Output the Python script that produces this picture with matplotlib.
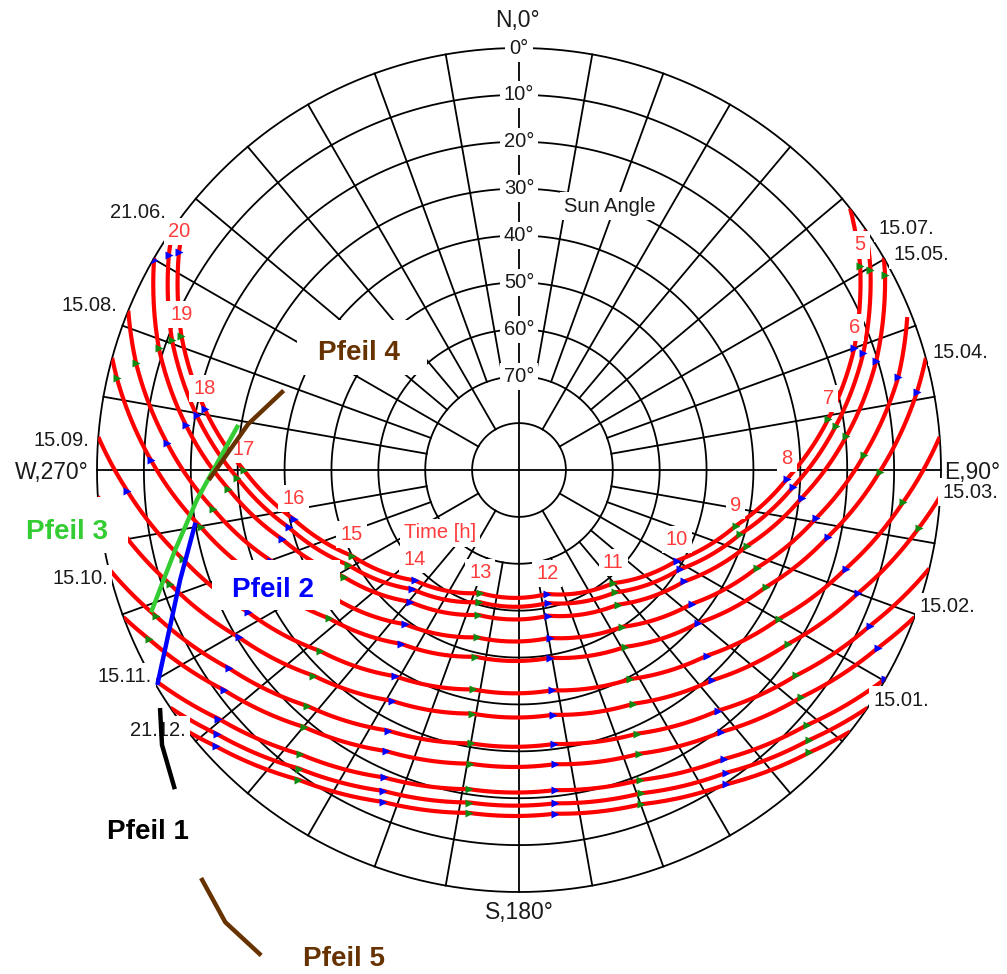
import numpy as np
import matplotlib.pyplot as plt
from matplotlib.patches import Rectangle

plt.rcParams['font.family'] = ['Liberation Sans', 'DejaVu Sans']

W, H = 1007, 974

# sun paths: azimuth / altitude in degrees
# first + last value = start / end of the drawn path, values between = full hours from h0
dates = ['21.06.', '15.07.', '15.05.', '15.08.', '15.04.', '15.09.',
         '15.03.', '15.10.', '15.02.', '15.11.', '15.01.', '21.12.']
h0 = [5, 5, 5, 6, 6, 7, 7, 8, 8, 8, 9, 9]

az_2106 = [51.7, 59.1, 70.0, 80.7, 91.9, 104.5, 119.9, 140.2, 167.2, 197.5, 223.4, 242.9, 257.7, 270.0, 281.0, 291.7, 302.6, 306.5]
alt_2106 = [0, 5.2, 13.9, 23.2, 32.8, 42.3, 51.2, 58.6, 62.9, 62.5, 57.6, 49.9, 40.8, 31.3, 21.7, 12.5, 3.9, 1.2]
az_1507 = [55.2, 60.3, 71.3, 82.1, 93.5, 106.2, 121.7, 141.8, 167.9, 196.7, 221.8, 241.0, 256.0, 268.4, 279.6, 290.5, 301.5, 304.9]
alt_1507 = [0, 3.7, 12.5, 21.8, 31.4, 40.9, 49.7, 56.8, 61.0, 60.6, 55.9, 48.3, 39.4, 29.9, 20.3, 11.0, 2.4, 0]
az_1505 = [59.8, 61.9, 73.1, 84.1, 95.6, 108.5, 124.0, 143.8, 168.6, 195.7, 219.7, 238.7, 253.7, 266.3, 277.7, 288.7, 299.9, 300.2]
alt_1505 = [0, 1.5, 10.4, 19.8, 29.4, 38.8, 47.5, 54.4, 58.3, 57.9, 53.5, 46.2, 37.4, 27.9, 18.3, 8.9, 0.2, 0]
az_1508 = [68.5, 76.2, 87.5, 99.2, 112.3, 127.8, 146.8, 169.7, 194.2, 216.5, 234.9, 249.9, 262.7, 274.4, 285.6, 292.2]
alt_1508 = [1.0, 6.7, 16.3, 25.8, 35.1, 43.4, 50.0, 53.6, 53.2, 49.1, 42.2, 33.7, 24.3, 14.7, 5.2, 0]
az_1504 = [74.6, 78.9, 90.3, 102.2, 115.3, 130.6, 149.0, 170.5, 193.2, 214.2, 232.0, 246.9, 259.8, 271.5, 282.9, 285.4]
alt_1504 = [0, 3.5, 13.1, 22.6, 31.7, 39.8, 46.0, 49.4, 49.1, 45.2, 38.6, 30.3, 21.1, 11.5, 2.0, 0]
az_1509 = [85.5, 94.8, 106.8, 119.8, 134.7, 152.0, 171.5, 191.8, 211.0, 227.8, 242.4, 255.2, 267.0, 274.5]
alt_1509 = [0, 7.8, 17.2, 26.1, 33.7, 39.5, 42.5, 42.2, 38.7, 32.6, 24.7, 15.8, 6.3, 0]
az_1503 = [93.6, 98.2, 110.0, 122.9, 137.4, 153.9, 172.1, 190.9, 208.9, 225.0, 239.2, 251.9, 263.7, 266.4]
alt_1503 = [0, 3.8, 13.1, 21.7, 29.1, 34.5, 37.3, 37.1, 33.8, 28.0, 20.4, 11.7, 2.3, 0]
az_1510 = [103.5, 113.9, 126.5, 140.4, 155.9, 172.7, 190.0, 206.7, 221.9, 235.6, 248.0, 256.5]
alt_1510 = [0, 8.1, 16.4, 23.4, 28.4, 31.1, 30.8, 27.8, 22.4, 15.1, 6.6, 0]
az_1502 = [110.4, 116.4, 128.8, 142.3, 157.1, 173.1, 189.5, 205.3, 220.0, 233.3, 245.5, 249.6]
alt_1502 = [0, 4.6, 12.7, 19.4, 24.3, 26.8, 26.5, 23.7, 18.5, 11.5, 3.2, 0]
az_1511 = [119.5, 119.7, 131.6, 144.6, 158.6, 173.6, 188.9, 203.7, 217.6, 230.4, 240.5]
alt_1511 = [0, 0.1, 8.0, 14.4, 19.0, 21.3, 21.1, 18.4, 13.5, 6.8, 0]
az_1501 = [124.3, 133.0, 145.7, 159.3, 173.8, 188.5, 202.9, 216.4, 228.9, 235.7]
alt_1501 = [0, 5.5, 11.8, 16.3, 18.5, 18.3, 15.7, 10.9, 4.4, 0]
az_2112 = [128.3, 134.2, 146.6, 159.9, 174.0, 188.3, 202.3, 215.5, 227.7, 231.7]
alt_2112 = [0, 3.6, 9.7, 14.1, 16.3, 16.1, 13.5, 8.9, 2.5, 0]

azs = [az_2106, az_1507, az_1505, az_1508, az_1504, az_1509,
       az_1503, az_1510, az_1502, az_1511, az_1501, az_2112]
alts = [alt_2106, alt_1507, alt_1505, alt_1508, alt_1504, alt_1509,
        alt_1503, alt_1510, alt_1502, alt_1511, alt_1501, alt_2112]

# hand drawn "Pfeil" strokes (azimuth, altitude; negative = outside horizon)
pfeil1_az, pfeil1_alt = [236.2, 232.4, 227.4], [-2.1, -6.1, -9.9]
pfeil2_az, pfeil2_alt = [239.5, 252.0, 260.4], [0.6, 14.0, 19.9]
pfeil3_az, pfeil3_alt = [249.1, 256.9, 264.7, 278.7], [6.2, 14.7, 21.0, 29.2]
pfeil4_az, pfeil4_alt = [268.5, 279.6, 288.2], [24.1, 31.4, 36.8]
pfeil5_az, pfeil5_alt = [217.7, 213.0, 208.2], [-20.5, -25.0, -27.1]

ring_alts = [0, 10, 20, 30, 40, 50, 60, 70]


def fxy(x, y):
    return x / W, 1 - y / H


fig = plt.figure(figsize=(W / 100, H / 100), dpi=100)
cx, cy, R = 519, 470, 422
ax = fig.add_axes([(cx - R) / W, (H - cy - R) / H, 2 * R / W, 2 * R / H], projection='polar')
ax.set_theta_zero_location('N')
ax.set_theta_direction(-1)
ax.set_rlim(90, 0)
ax.set_axis_off()

txt = '#1a1a1a'
red_txt = '#ff3b3b'
box = dict(boxstyle='square,pad=0.2', fc='white', ec='none')

##grid
th = np.linspace(0, 2 * np.pi, 721)
for a in range(0, 90, 10):
    ax.plot(th, np.full_like(th, a), color='black', lw=1.3, zorder=1, clip_on=False)
for a in range(0, 360, 10):
    ax.plot([np.radians(a)] * 2, [0, 70], color='black', lw=1.3, zorder=1, clip_on=False)
for a in range(0, 360, 30):
    ax.plot([np.radians(a)] * 2, [70, 80], color='black', lw=1.3, zorder=1)
for a in range(0, 360, 90):
    ax.plot([np.radians(a)] * 2, [80, 90], color='black', lw=1.3, zorder=1)

for a in ring_alts:
    ax.text(0, a, '%d°' % a, ha='center', va='center', fontsize=14.5, color=txt, bbox=box, zorder=3)

##sun paths + hour ticks
for az, alt, h in zip(azs, alts, h0):
    t = np.radians(az)
    ln, = ax.plot(t, alt, color='#ff0000', lw=3.0, solid_capstyle='butt', zorder=4)
    ln.get_path()._interpolation_steps = 24  # curved segments in polar space
    for i in range(1, len(az) - 1):
        hour = h + i - 1
        c = '#0000ff' if hour % 2 == 0 else '#108a10'
        ax.plot(t[i], alt[i], ls='none', marker='>', ms=6, color=c, mec='none', zorder=5)

# hour labels above the 21.06. path
for i in range(1, len(az_2106) - 1):
    ax.annotate(str(h0[0] + i - 1), (np.radians(az_2106[i]), alt_2106[i]),
                xytext=(0, 15), textcoords='offset points', ha='center', va='center',
                fontsize=14.5, color=red_txt, bbox=box, zorder=6)

##labels
date_px = {'21.06.': (138, 212), '15.08.': (89, 305), '15.09.': (61, 440),
           '15.10.': (80, 579), '15.11.': (125, 677), '21.12.': (158, 730),
           '15.07.': (906, 228), '15.05.': (921, 255), '15.04.': (960, 352),
           '15.03.': (970, 492), '15.02.': (947, 607), '15.01.': (901, 700)}
for d in dates:
    x, y = fxy(*date_px[d])
    ax.text(x, y, d, transform=fig.transFigure, ha='center', va='center', fontsize=14.5,
            color=txt, bbox=box, zorder=6, clip_on=False)

for s, (x, y) in [('N,0°', (517, 21)), ('S,180°', (519, 912)),
                  ('W,270°', (52, 472)), ('E,90°', (972, 472))]:
    fx, fy = fxy(x, y)
    ax.text(fx, fy, s, transform=fig.transFigure, ha='center', va='center',
            fontsize=16.5, color=txt, zorder=6, clip_on=False)

fx, fy = fxy(610, 206)
ax.text(fx, fy, 'Sun Angle', transform=fig.transFigure, ha='center', va='center',
        fontsize=14.5, color=txt, bbox=box, zorder=6)
fx, fy = fxy(440, 533)
ax.text(fx, fy, 'Time [h]', transform=fig.transFigure, ha='center', va='center',
        fontsize=14.5, color=red_txt, bbox=box, zorder=6)

##Pfeil annotations
for (x0, y0, x1, y1) in [(212, 560, 340, 610), (0, 497, 128, 553), (297, 320, 427, 375)]:
    fx0, fy1 = fxy(x0, y1)
    ax.add_patch(Rectangle((fx0, fy1), (x1 - x0) / W, (y1 - y0) / H, transform=fig.transFigure,
                           fc='white', ec='none', zorder=7, clip_on=False))

strokes = [(pfeil1_az, pfeil1_alt, 'black'), (pfeil2_az, pfeil2_alt, '#0000ff'),
           (pfeil3_az, pfeil3_alt, '#33cc33'), (pfeil4_az, pfeil4_alt, '#663300'),
           (pfeil5_az, pfeil5_alt, '#663300')]
for az, alt, c in strokes:
    ax.plot(np.radians(az), alt, color=c, lw=3.2, zorder=8, clip_on=False)

for s, (x, y), c in [('Pfeil 1', (148, 832), 'black'), ('Pfeil 2', (273, 590), '#0000ff'),
                     ('Pfeil 3', (67, 532), '#33cc33'), ('Pfeil 4', (359, 353), '#663300'),
                     ('Pfeil 5', (344, 959), '#663300')]:
    fx, fy = fxy(x, y)
    ax.text(fx, fy, s, transform=fig.transFigure, ha='center', va='center', fontsize=20,
            fontweight='bold', color=c, zorder=9, clip_on=False)

fig.savefig('out.png', dpi=100)
